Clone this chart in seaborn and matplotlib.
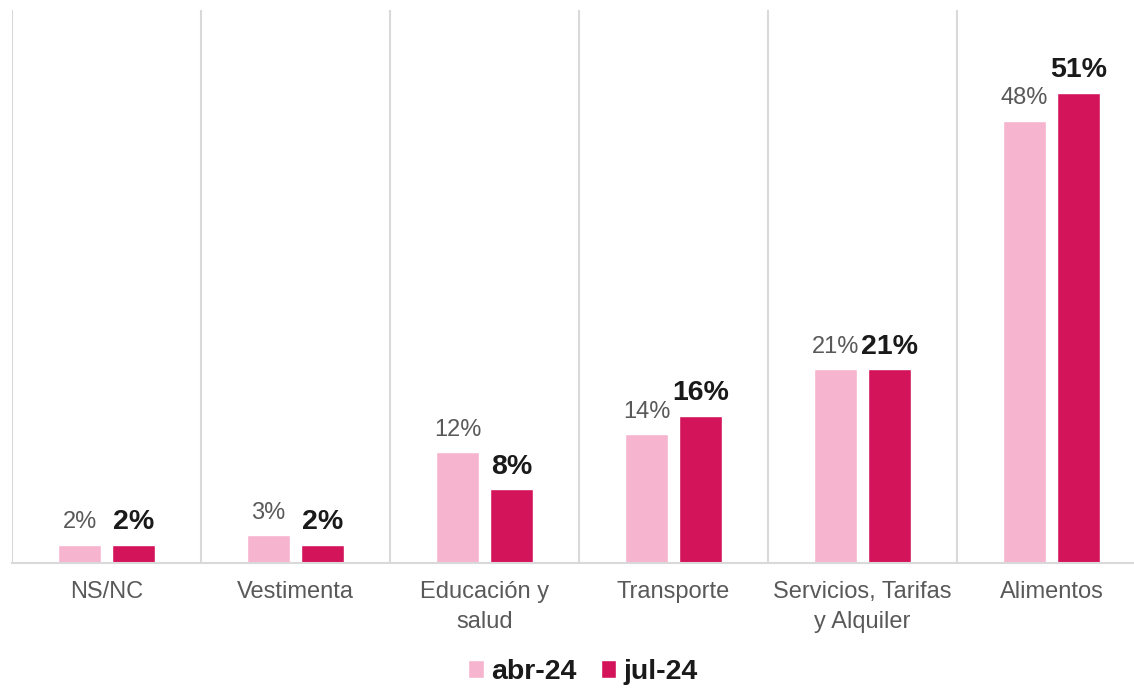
import pandas as pd
import matplotlib
matplotlib.use('Agg')
import matplotlib.pyplot as plt
import seaborn as sns

categorias = ['NS/NC', 'Vestimenta', 'Educación y\nsalud', 'Transporte',
              'Servicios, Tarifas\ny Alquiler', 'Alimentos']
periodos = ['abr-24', 'jul-24']
abr_24 = [2, 3, 12, 14, 21, 48]
jul_24 = [2, 2, 8, 16, 21, 51]

df = pd.DataFrame({
    'categoria': categorias * 2,
    'periodo': [periodos[0]] * len(categorias) + [periodos[1]] * len(categorias),
    'valor': abr_24 + jul_24,
})

sns.set_style('white')
plt.rcParams['font.family'] = ['Liberation Sans', 'DejaVu Sans']

colores = {'abr-24': '#F7B4CF', 'jul-24': '#D4145A'}
gris = '#595959'
linea = '#D9D9D9'

fig = plt.figure(figsize=(11.34, 6.88), dpi=100)
ax = fig.add_axes([12 / 1134, 1 - 563 / 688, 1134 / 1134, 553 / 688])

sns.barplot(data=df, x='categoria', y='valor', hue='periodo', order=categorias,
            hue_order=periodos, palette=colores, width=0.57, gap=0.21,
            saturation=1, ax=ax)

ax.set_ylim(0, 60)
ax.set_xlim(-0.5, len(categorias) - 0.5)
ax.set_xlabel('')
ax.set_ylabel('')
ax.set_yticks([])

# separadores verticales entre categorías
for i in range(len(categorias) + 1):
    ax.axvline(i - 0.5, color=linea, lw=1.5, zorder=0)

for s in ['top', 'right', 'left']:
    ax.spines[s].set_visible(False)
ax.spines['bottom'].set_color(linea)
ax.spines['bottom'].set_linewidth(1.5)

ax.tick_params(axis='x', length=0, pad=13, labelsize=17, labelcolor=gris)
for t in ax.get_xticklabels():
    t.set_linespacing(1.45)

ax.bar_label(ax.containers[0], labels=[f'{v}%' for v in abr_24], padding=8,
             fontsize=17, color=gris)
ax.bar_label(ax.containers[1], labels=[f'{v}%' for v in jul_24], padding=7,
             fontsize=20.5, fontweight='bold', color='#1A1A1A')

handles, labels = ax.get_legend_handles_labels()
ax.get_legend().remove()
fig.legend(handles, labels, loc='center', bbox_to_anchor=(0.514, 1 - 672 / 688),
           ncol=2, frameon=False, handlelength=0.55, handleheight=0.55,
           handletextpad=0.25, columnspacing=0.85,
           prop={'size': 20.5, 'weight': 'bold'}, labelcolor='#1A1A1A')

fig.savefig('out.png', dpi=100)
